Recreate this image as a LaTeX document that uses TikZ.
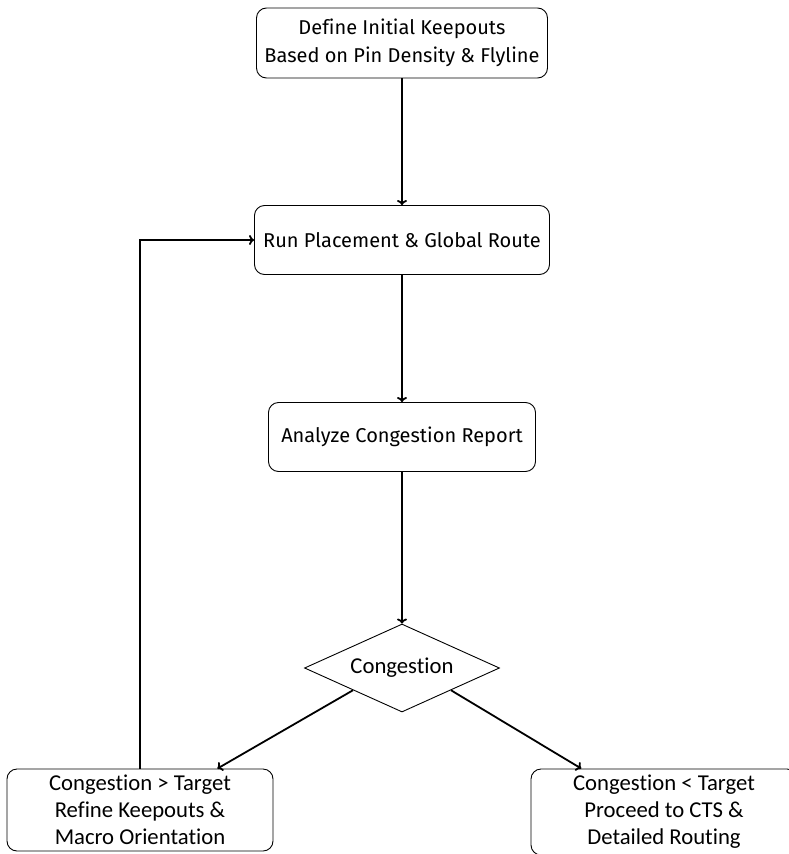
\documentclass[tikz,border=0pt]{standalone}
\usepackage{fontspec}
\setmainfont[Ligatures=NoCommon]{Fira Sans}
\newfontfamily\calib[Ligatures=NoCommon]{Carlito}
\usetikzlibrary{shapes.geometric,calc,arrows.meta}

\tikzset{
  stepbox/.style={draw,rounded corners=10pt,line width=0.9pt,align=center,
    inner sep=0pt,font=\fontsize{20}{28}\selectfont},
  endbox/.style={stepbox,font=\calib\fontsize{22.7}{27}\selectfont},
  decide/.style={draw,diamond,line width=0.9pt,inner sep=0pt,aspect=2.2,
    minimum width=195pt,minimum height=88pt,font=\calib\fontsize{22.7}{24}\selectfont},
  flow/.style={line width=1.8pt,-{To[length=5pt,width=10pt]}}
}

\begin{document}
\begin{tikzpicture}[x=1pt,y=1pt]
\useasboundingbox (0,0) rectangle (788,-854);
% Steps
\node[stepbox,minimum width=291pt,minimum height=70pt] (keep) at (402,-43)
  {Define Initial Keepouts\\Based on Pin Density \& Flyline};
\node[stepbox,minimum width=295pt,minimum height=69pt] (run) at (402,-240)
  {Run Placement \& Global Route};
\node[stepbox,minimum width=267pt,minimum height=69pt] (ana) at (402,-437)
  {Analyze Congestion Report};
\node[decide] (cong) at (402,-668) {Congestion};
\node[endbox,minimum width=266pt,minimum height=82pt] (refine) at (140,-810)
  {Congestion > Target\\Refine Keepouts \&\\Macro Orientation};
\node[endbox,minimum width=266pt,minimum height=86pt] (cts) at (664,-812)
  {Congestion < Target\\Proceed to CTS \&\\Detailed Routing};
% Flow
\draw[flow] (keep) -- (run);
\draw[flow] (run) -- (ana);
\draw[flow] (ana) -- (cong);
\draw[flow] (cong.south west) -- ($(refine.north)!0.58!(refine.north east)$);
\draw[flow] (cong.south east) -- ($(cts.north)!0.62!(cts.north west)$);
% Loop back
\draw[flow] (refine.north) |- (run.west);
\end{tikzpicture}
\end{document}
